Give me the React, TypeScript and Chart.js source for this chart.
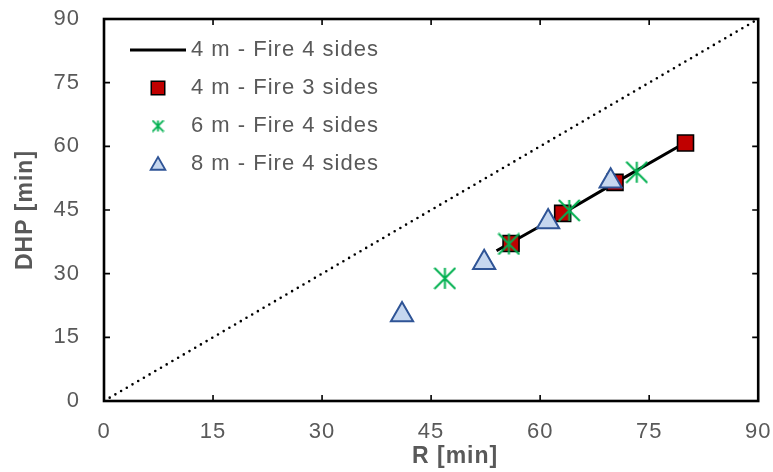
import React, { useEffect, useRef } from 'react';
import { Chart, registerables } from 'chart.js';

Chart.register(...registerables);

// ---- data ----
const AXIS_MIN = 0;
const AXIS_MAX = 90;
const AXIS_STEP = 15;
const X_TITLE = 'R [min]';
const Y_TITLE = 'DHP [min]';

const LINE_LABEL = '4 m - Fire 4 sides';
const lineR = [54, 62.5, 70, 80];
const lineDHP = [35.4, 43.6, 51.1, 60.9];

const SQUARE_LABEL = '4 m - Fire 3 sides';
const squareR = [56.0, 63.1, 70.3, 80.0];
const squareDHP = [37.1, 44.2, 51.5, 60.8];

const STAR_LABEL = '6 m - Fire 4 sides';
const starR = [46.9, 55.7, 64.0, 73.3];
const starDHP = [28.9, 37.0, 44.9, 53.9];

const TRI_LABEL = '8 m - Fire 4 sides';
const triR = [41.0, 52.3, 61.1, 69.7];
const triDHP = [20.3, 32.6, 42.2, 51.8];

const diagR = [0, 90];
const diagDHP = [0, 90];

const FONT = "'Liberation Sans', Arial, sans-serif";
const TEXT_COLOR = '#595959';
const RED = '#C00000';
const GREEN = '#00B050';
const TRI_FILL = '#C6D7EF';
const TRI_EDGE = '#2F5496';
const X_TITLE_SHIFT = 24;

const pts = (xs: number[], ys: number[]) => xs.map((x, i) => ({ x, y: ys[i] }));

function makeAsterisk(size: number, color: string, lw: number) {
  const c = document.createElement('canvas');
  c.width = size;
  c.height = size;
  const g = c.getContext('2d')!;
  g.strokeStyle = color;
  g.lineWidth = lw;
  const m = lw / 2;
  const s = size;
  g.beginPath();
  g.moveTo(s / 2, m);
  g.lineTo(s / 2, s - m);
  g.moveTo(m, m);
  g.lineTo(s - m, s - m);
  g.moveTo(s - m, m);
  g.lineTo(m, s - m);
  g.stroke();
  return c;
}

function drawTriangle(ctx: CanvasRenderingContext2D, x: number, y: number, r: number) {
  ctx.beginPath();
  for (let k = 0; k < 3; k++) {
    const a = (k * 2 * Math.PI) / 3;
    const px = x + Math.sin(a) * r;
    const py = y - Math.cos(a) * r;
    if (k === 0) ctx.moveTo(px, py);
    else ctx.lineTo(px, py);
  }
  ctx.closePath();
}

const wideText = {
  id: 'wideText',
  beforeDraw(chart: any) {
    (chart.ctx as any).letterSpacing = '1px';
  },
};

const frameTicks = {
  id: 'frameTicks',
  beforeDatasetsDraw(chart: any) {
    const { ctx, chartArea } = chart;
    const { left, right, top, bottom } = chartArea;
    const xs = chart.scales.x;
    const ys = chart.scales.y;
    ctx.save();
    ctx.strokeStyle = '#000';
    ctx.lineWidth = 1.6;
    const L = 6;
    xs.ticks.forEach((t: any) => {
      if (t.value <= AXIS_MIN || t.value >= AXIS_MAX) return;
      const px = xs.getPixelForValue(t.value);
      ctx.beginPath();
      ctx.moveTo(px, bottom);
      ctx.lineTo(px, bottom - L);
      ctx.moveTo(px, top);
      ctx.lineTo(px, top + L);
      ctx.stroke();
    });
    ys.ticks.forEach((t: any) => {
      if (t.value <= AXIS_MIN || t.value >= AXIS_MAX) return;
      const py = ys.getPixelForValue(t.value);
      ctx.beginPath();
      ctx.moveTo(left, py);
      ctx.lineTo(left + L, py);
      ctx.moveTo(right, py);
      ctx.lineTo(right - L, py);
      ctx.stroke();
    });
    ctx.lineWidth = 2.6;
    ctx.strokeRect(left, top, right - left, bottom - top);
    ctx.restore();
  },
};

const insideLegend = {
  id: 'insideLegend',
  afterDatasetsDraw(chart: any, _args: any, opts: any) {
    const { ctx, chartArea } = chart;
    const items = chart.data.datasets.filter((d: any) => d.label);
    items.forEach((ds: any, i: number) => {
      const y = chartArea.top + opts.firstRow + i * opts.rowGap;
      const mx = chartArea.left + opts.markerX;
      ctx.save();
      const kind = ds.legendKind;
      if (kind === 'line') {
        ctx.strokeStyle = ds.borderColor;
        ctx.lineWidth = ds.borderWidth;
        ctx.beginPath();
        ctx.moveTo(mx - opts.lineHalf, y);
        ctx.lineTo(mx + opts.lineHalf, y);
        ctx.stroke();
      } else if (kind === 'rect') {
        const s = 13.5;
        ctx.fillStyle = ds.backgroundColor;
        ctx.fillRect(mx - s / 2, y - s / 2, s, s);
        ctx.strokeStyle = ds.borderColor;
        ctx.lineWidth = 1.5;
        ctx.strokeRect(mx - s / 2, y - s / 2, s, s);
      } else if (kind === 'star') {
        const img = ds.legendImage;
        ctx.drawImage(img, mx - img.width / 2, y - img.height / 2);
      } else if (kind === 'triangle') {
        drawTriangle(ctx, mx, y + 1.5, 8.5);
        ctx.fillStyle = ds.backgroundColor;
        ctx.fill();
        ctx.strokeStyle = ds.borderColor;
        ctx.lineWidth = 1.8;
        ctx.stroke();
      }
      ctx.fillStyle = TEXT_COLOR;
      ctx.font = `22px ${FONT}`;
      ctx.textAlign = 'left';
      ctx.textBaseline = 'middle';
      ctx.fillText(ds.label, chartArea.left + opts.textX, y);
      ctx.restore();
    });
  },
};

export default function App() {
  const ref = useRef<HTMLCanvasElement | null>(null);

  useEffect(() => {
    if (!ref.current) return;
    const starImg = makeAsterisk(23, GREEN, 2);
    const starLegend = makeAsterisk(13, GREEN, 1.8);

    const chart = new Chart(ref.current, {
      type: 'scatter',
      data: {
        datasets: [
          {
            label: LINE_LABEL,
            legendKind: 'line',
            data: pts(lineR, lineDHP),
            showLine: true,
            borderColor: '#000000',
            borderWidth: 3,
            pointRadius: 0,
            order: 3,
          } as any,
          {
            label: SQUARE_LABEL,
            legendKind: 'rect',
            data: pts(squareR, squareDHP),
            pointStyle: 'rect',
            pointRadius: 11.3,
            backgroundColor: RED,
            borderColor: '#000000',
            borderWidth: 1.6,
            order: 2,
          } as any,
          {
            label: STAR_LABEL,
            legendKind: 'star',
            legendImage: starLegend,
            data: pts(starR, starDHP),
            pointStyle: starImg,
            pointRadius: 11,
            backgroundColor: GREEN,
            borderColor: GREEN,
            order: 1,
          } as any,
          {
            label: TRI_LABEL,
            legendKind: 'triangle',
            data: pts(triR, triDHP),
            pointStyle: 'triangle',
            pointRadius: 12.8,
            backgroundColor: TRI_FILL,
            borderColor: TRI_EDGE,
            borderWidth: 2,
            order: 0,
          } as any,
          {
            data: pts(diagR, diagDHP),
            showLine: true,
            borderColor: '#000000',
            borderWidth: 2.6,
            borderDash: [0, 6.6],
            borderCapStyle: 'round',
            pointRadius: 0,
            order: 4,
          } as any,
        ],
      },
      options: {
        animation: false,
        responsive: false,
        events: [],
        layout: { padding: { top: 19, right: 14, left: 0, bottom: 0 } },
        plugins: {
          legend: { display: false },
          tooltip: { enabled: false },
          insideLegend: { firstRow: 31, rowGap: 38, markerX: 54, lineHalf: 28, textX: 87 },
        } as any,
        scales: {
          x: {
            type: 'linear',
            min: AXIS_MIN,
            max: AXIS_MAX,
            grid: { display: false, drawTicks: false },
            border: { display: false },
            ticks: {
              stepSize: AXIS_STEP,
              padding: 18,
              color: TEXT_COLOR,
              font: { family: FONT, size: 22 },
              maxRotation: 0,
            },
            title: {
              display: true,
              text: X_TITLE,
              color: TEXT_COLOR,
              font: { family: FONT, size: 23, weight: 'bold' },
              padding: { top: 0, bottom: 2 },
            },
            afterFit: (s: any) => {
              s.height = 71;
              s.paddingLeft = 0;
              s.paddingRight = 0;
              if (!s._shiftedTitle) {
                const orig = s.drawTitle;
                s.drawTitle = function (...args: any[]) {
                  this.ctx.save();
                  this.ctx.translate(X_TITLE_SHIFT, 0);
                  orig.apply(this, args);
                  this.ctx.restore();
                };
                s._shiftedTitle = true;
              }
            },
          },
          y: {
            type: 'linear',
            min: AXIS_MIN,
            max: AXIS_MAX,
            grid: { display: false, drawTicks: false },
            border: { display: false },
            ticks: {
              stepSize: AXIS_STEP,
              padding: 24,
              color: TEXT_COLOR,
              font: { family: FONT, size: 22 },
            },
            title: {
              display: true,
              text: Y_TITLE,
              color: TEXT_COLOR,
              font: { family: FONT, size: 23, weight: 'bold' },
              padding: { top: 12, bottom: 0 },
            },
            afterFit: (s: any) => {
              s.width = 104;
              s.paddingTop = 0;
              s.paddingBottom = 0;
            },
          },
        },
      } as any,
      plugins: [wideText, frameTicks, insideLegend],
    });
    return () => chart.destroy();
  }, []);

  return (
    <div style={{ position: 'absolute', left: 0, top: 0, width: 773, height: 472, background: '#fff' }}>
      <canvas ref={ref} width={773} height={472} style={{ display: 'block' }} />
    </div>
  );
}
